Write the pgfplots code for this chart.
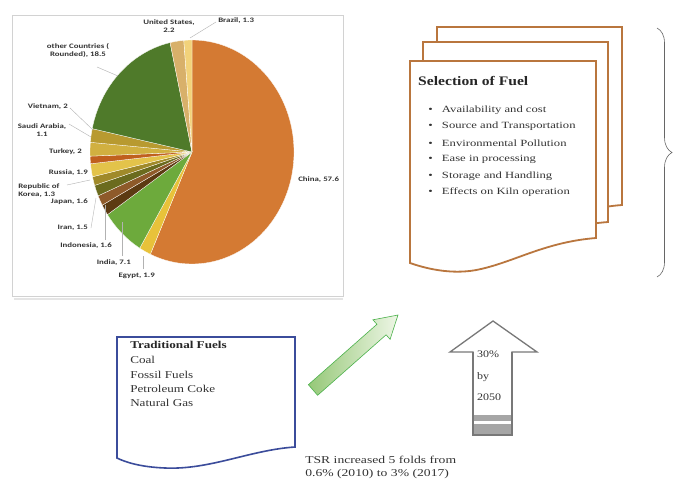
\documentclass[border=0pt]{standalone}
\usepackage{pgfplots}
\pgfplotsset{compat=1.18}
\usepackage{fontspec}
\setmainfont{Liberation Serif}
\newfontfamily\lab{Carlito}
\usetikzlibrary{decorations.pathreplacing}
\definecolor{cChina}{RGB}{212,122,51}
\definecolor{cEgypt}{RGB}{232,194,58}
\definecolor{cIndia}{RGB}{109,170,60}
\definecolor{cIndo}{RGB}{92,58,18}
\definecolor{cIran}{RGB}{142,90,42}
\definecolor{cJapan}{RGB}{107,107,30}
\definecolor{cKorea}{RGB}{160,138,42}
\definecolor{cRussia}{RGB}{227,195,74}
\definecolor{cSaudi}{RGB}{192,96,30}
\definecolor{cTurkey}{RGB}{209,176,64}
\definecolor{cViet}{RGB}{184,154,48}
\definecolor{cOther}{RGB}{79,122,42}
\definecolor{cUS}{RGB}{216,176,106}
\definecolor{cBrazil}{RGB}{242,210,122}
\definecolor{docbrown}{RGB}{185,118,62}
\definecolor{docblue}{RGB}{59,76,155}
\definecolor{arrowgray}{RGB}{120,120,120}
\begin{document}
\begin{tikzpicture}
\begin{axis}[hide axis, scale only axis, x=1pt, y=1pt, xmin=0, xmax=676, ymin=0, ymax=487, y dir=reverse, clip=false]
\fill[white] (axis cs:0,0) rectangle (axis cs:676,487);
% pie panel
\draw[gray!35, line width=0.8pt] (axis cs:12,15) rectangle (axis cs:343,296);
\draw[gray!20, line width=1.5pt] (axis cs:14,299) -- (axis cs:343,299);
% pie slices (values in percent)
\gdef\cum{0}
\foreach \v/\col in {57.6/cChina,1.9/cEgypt,7.1/cIndia,1.6/cIndo,1.5/cIran,1.6/cJapan,1.3/cKorea,1.9/cRussia,1.1/cSaudi,2/cTurkey,2/cViet,18.5/cOther,2.2/cUS,1.3/cBrazil}{%
  \pgfmathsetmacro\a{-90+\cum/101.6*360}%
  \pgfmathsetmacro\b{-90+(\cum+\v)/101.6*360}%
  \pgfmathsetmacro\xa{192+102*cos(\a)}%
  \pgfmathsetmacro\ya{152+112*sin(\a)}%
  \pgfmathsetmacro\na{-\a}%
  \pgfmathsetmacro\nb{-\b}%
  \edef\temp{\noexpand\fill[\col, draw=white, line width=0.3pt] (axis cs:192,152) -- (axis cs:\xa,\ya) arc[start angle=\na, end angle=\nb, x radius=102pt, y radius=112pt] -- cycle;}%
  \temp
  \pgfmathsetmacro\newcum{\cum+\v}%
  \xdef\cum{\newcum}%
}
% pie labels
\tikzset{plab/.style={font=\lab\bfseries\fontsize{6.8}{8}\selectfont, text=black!80, inner sep=0pt, align=center, xscale=1.3}}
\node[plab] at (axis cs:169,26) {United States,\\2.2};
\node[plab, anchor=west] at (axis cs:218,21) {Brazil, 1.3};
\draw[gray!60, line width=0.4pt] (axis cs:216,22) -- (axis cs:190,38);
\node[plab] at (axis cs:78,50) {other Countries (\\Rounded), 18.5};
\draw[gray!60, line width=0.4pt] (axis cs:97,67) -- (axis cs:118,76);
\node[plab, anchor=east] at (axis cs:68,107) {Vietnam, 2};
\draw[gray!60, line width=0.4pt] (axis cs:70,108) -- (axis cs:93,130);
\node[plab] at (axis cs:42,130) {Saudi Arabia,\\1.1};
\draw[gray!60, line width=0.4pt] (axis cs:69,124) -- (axis cs:91,137);
\node[plab, anchor=east] at (axis cs:82,152) {Turkey, 2};
\node[plab, anchor=east] at (axis cs:88,173) {Russia, 1.9};
\node[plab, anchor=west, align=left] at (axis cs:18,191) {Republic of\\Korea, 1.3};
\draw[gray!60, line width=0.4pt] (axis cs:67,185) -- (axis cs:90,180);
\node[plab, anchor=east] at (axis cs:88,202) {Japan, 1.6};
\node[plab, anchor=east] at (axis cs:88,228) {Iran, 1.5};
\draw[gray!60, line width=0.4pt] (axis cs:91,228) -- (axis cs:96,198);
\node[plab, anchor=east] at (axis cs:112,246) {Indonesia, 1.6};
\draw[gray!60, line width=0.4pt] (axis cs:105,240) -- (axis cs:105,205);
\node[plab, anchor=east] at (axis cs:131,263) {India, 7.1};
\draw[gray!60, line width=0.4pt] (axis cs:122,256) -- (axis cs:122,222);
\node[plab, anchor=east] at (axis cs:155,276) {Egypt, 1.9};
\draw[gray!60, line width=0.4pt] (axis cs:143,269) -- (axis cs:143,256);
\node[plab, anchor=west] at (axis cs:298,180) {China, 57.6};
% documents: selection of fuel
\filldraw[docbrown, fill=white, line width=1.8pt] (axis cs:437,27) -- (axis cs:622,27) -- (axis cs:622,205) .. controls (axis cs:570,209) and (axis cs:540,229) .. (axis cs:505,239) .. controls (axis cs:480,246) and (axis cs:455,242) .. (axis cs:437,235) -- cycle;
\filldraw[docbrown, fill=white, line width=1.8pt] (axis cs:423,42) -- (axis cs:608,42) -- (axis cs:608,222) .. controls (axis cs:556,226) and (axis cs:526,245) .. (axis cs:491,255) .. controls (axis cs:466,262) and (axis cs:441,258) .. (axis cs:423,251) -- cycle;
\filldraw[docbrown, fill=white, line width=1.8pt] (axis cs:410,61) -- (axis cs:596,61) -- (axis cs:596,238) .. controls (axis cs:546,242) and (axis cs:516,261) .. (axis cs:481,269) .. controls (axis cs:456,275) and (axis cs:430,270) .. (axis cs:410,263) -- cycle;
\node[anchor=west, font=\bfseries\fontsize{13}{15}\selectfont, text=black!85, inner sep=0pt, xscale=1.2] at (axis cs:418,81) {Selection of Fuel};
\foreach \t [count=\i] in {Availability and cost, Source and Transportation, Environmental Pollution, Ease in processing, Storage and Handling, Effects on Kiln operation}{%
  \pgfmathsetmacro\yy{110+(\i-1)*16.5}%
  \edef\temp{\noexpand\node[anchor=west, font=\noexpand\fontsize{9.5}{11}\noexpand\selectfont, text=black!80, inner sep=0pt, xscale=1.33] at (axis cs:428,\yy) {\noexpand\textbullet\noexpand\hspace{7pt}\t};}%
  \temp
}
% brace
\draw[black!60, line width=0.6pt, decorate, decoration={brace, amplitude=15pt}] (axis cs:657,28) -- (axis cs:657,277);
% traditional fuels document
\filldraw[docblue, fill=white, line width=1.6pt] (axis cs:117,337) -- (axis cs:295,337) -- (axis cs:295,447) .. controls (axis cs:250,450) and (axis cs:210,470) .. (axis cs:165,468) .. controls (axis cs:140,467) and (axis cs:125,462) .. (axis cs:117,458) -- cycle;
\tikzset{tf/.style={anchor=west, font=\fontsize{10.5}{12}\selectfont, text=black!80, inner sep=0pt, xscale=1.25}}
\node[tf, font=\bfseries\fontsize{10.5}{12}\selectfont, text=black!85] at (axis cs:130,345) {Traditional Fuels};
\node[tf] at (axis cs:130,360) {Coal};
\node[tf] at (axis cs:130,375) {Fossil Fuels};
\node[tf] at (axis cs:130,389) {Petroleum Coke};
\node[tf] at (axis cs:130,403) {Natural Gas};
% green arrow
\draw[gray!60!green, line width=0.6pt, left color={rgb,255:red,150;green,200;blue,120}, right color={rgb,255:red,238;green,246;blue,230}] (axis cs:308.4,384.7) -- (axis cs:376.9,324.3) -- (axis cs:372.9,319.8) -- (axis cs:398,315) -- (axis cs:390.1,339.3) -- (axis cs:386.1,334.8) -- (axis cs:317.6,395.3) -- cycle;
% up arrow
\filldraw[arrowgray, fill=white, line width=1.3pt] (axis cs:493,321) -- (axis cs:537,352) -- (axis cs:512,352) -- (axis cs:512,435) -- (axis cs:473,435) -- (axis cs:473,352) -- (axis cs:450,352) -- cycle;
\fill[gray!70] (axis cs:473,415) rectangle (axis cs:512,435);
\fill[white] (axis cs:474,421) rectangle (axis cs:511,424);
\draw[arrowgray, line width=1.3pt] (axis cs:473,352) -- (axis cs:473,435) -- (axis cs:512,435) -- (axis cs:512,352);
\tikzset{ua/.style={anchor=west, font=\fontsize{10}{12}\selectfont, text=black!80, inner sep=0pt, xscale=1.2}}
\node[ua] at (axis cs:477,354) {30\%};
\node[ua] at (axis cs:477,377) {by};
\node[ua] at (axis cs:477,397) {2050};
% TSR text
\tikzset{ts/.style={anchor=west, font=\fontsize{10.5}{12}\selectfont, text=black!80, inner sep=0pt, xscale=1.3}}
\node[ts] at (axis cs:305,460) {TSR increased 5 folds from};
\node[ts] at (axis cs:305,474) {0.6\% (2010) to 3\% (2017)};
\end{axis}
\end{tikzpicture}
\end{document}
